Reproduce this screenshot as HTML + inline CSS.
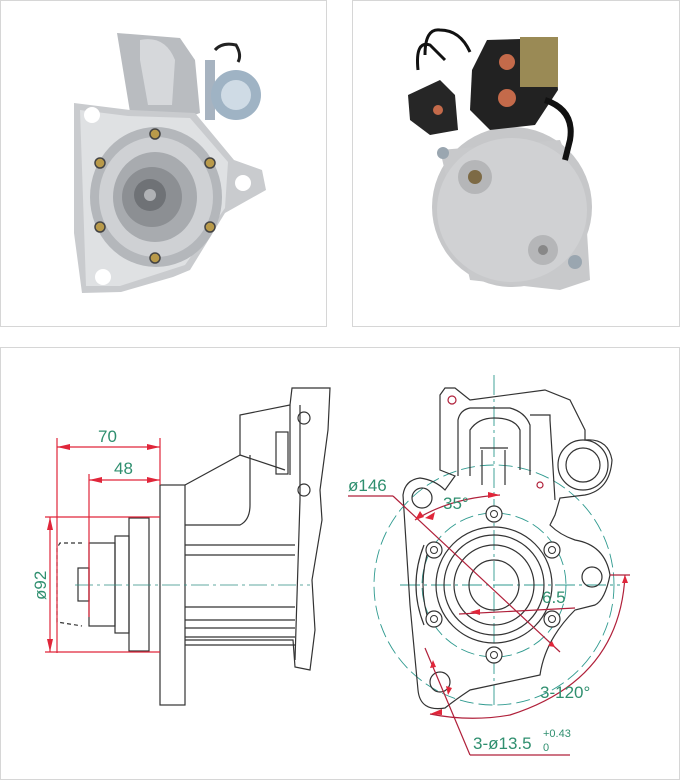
<!DOCTYPE html>
<html><head><meta charset="utf-8"><style>
html,body{margin:0;padding:0;background:#fff;}
svg{display:block;}
text{font-family:"Liberation Sans",sans-serif;}
</style></head><body>
<svg width="680" height="781" viewBox="0 0 680 781" xmlns="http://www.w3.org/2000/svg">
<rect width="680" height="781" fill="#fff"/>
<!-- panels -->
<rect x="0.5" y="0.5" width="326" height="326" fill="#fff" stroke="#d6d6d6"/>
<rect x="352.5" y="0.5" width="327" height="326" fill="#fff" stroke="#d6d6d6"/>
<rect x="0.5" y="347.5" width="679" height="432" fill="#fff" stroke="#d6d6d6"/>

<!-- left photo -->
<path d="M117,33 L180,38 L195,60 L200,113 L186,118 L130,112 Z" fill="#b9bcc0"/>
<path d="M140,40 Q165,35 175,60 L172,105 L148,105 L140,60 Z" fill="#d6d8db"/>
<path d="M74,103 L130,110 L195,113 L234,160 L262,170 L266,190 L225,213 L190,270 L173,277 L121,292 L82,293 L74,233 Z" fill="#c9cbce"/>
<path d="M80,110 L128,116 L190,118 L228,162 L225,208 L185,265 L120,286 L86,286 Z" fill="#dfe1e3"/>
<circle cx="92" cy="115" r="8" fill="#fff"/>
<circle cx="243" cy="183" r="8" fill="#fff"/>
<circle cx="103" cy="277" r="8" fill="#fff"/>
<ellipse cx="156" cy="197" rx="66" ry="70" fill="#b4b7bb"/>
<ellipse cx="156" cy="197" rx="57" ry="60" fill="#cfd1d4"/>
<ellipse cx="155" cy="197" rx="42" ry="45" fill="#a8abaf"/>
<circle cx="152" cy="197" r="30" fill="#8c8f93"/>
<circle cx="150" cy="195" r="16" fill="#6f7276"/>
<circle cx="150" cy="195" r="6" fill="#b0b2b5"/>
<g fill="#b99a4a" stroke="#444" stroke-width="1.5">
<circle cx="155" cy="134" r="5"/><circle cx="100" cy="163" r="5"/><circle cx="210" cy="163" r="5"/>
<circle cx="100" cy="227" r="5"/><circle cx="210" cy="227" r="5"/><circle cx="155" cy="258" r="5"/>
</g>
<path d="M215,50 Q222,42 236,45 Q242,55 238,62" fill="none" stroke="#222" stroke-width="3"/>
<rect x="205" y="60" width="10" height="60" fill="#a7b3c0"/>
<circle cx="236" cy="95" r="25" fill="#9fb3c4"/>
<circle cx="236" cy="95" r="15" fill="#cfdbe5"/>

<!-- right photo -->
<ellipse cx="512" cy="207" rx="80" ry="80" fill="#c6c7c9"/>
<path d="M440,150 L560,140 L585,200 L590,280 L560,290 L470,280 Z" fill="#c8c9cb"/>
<ellipse cx="512" cy="210" rx="75" ry="72" fill="#d0d1d3"/>
<circle cx="475" cy="177" r="17" fill="#b5b6b8"/>
<circle cx="475" cy="177" r="7" fill="#7d6a45"/>
<circle cx="543" cy="250" r="15" fill="#b5b6b8"/>
<circle cx="543" cy="250" r="5" fill="#888"/>
<circle cx="575" cy="262" r="7" fill="#9aa6b0"/>
<circle cx="443" cy="153" r="6" fill="#9aa6b0"/>
<path d="M487,40 L555,38 L558,90 L535,125 L490,130 L470,110 L472,70 Z" fill="#222"/>
<rect x="520" y="37" width="38" height="50" fill="#9a8a55"/>
<path d="M408,95 L440,80 L455,95 L458,130 L430,135 L410,120 Z" fill="#262626"/>
<circle cx="507" cy="62" r="8" fill="#c46a4a"/>
<circle cx="507" cy="98" r="9" fill="#c46a4a"/>
<circle cx="438" cy="110" r="5" fill="#c46a4a"/>
<path d="M425,55 Q425,28 440,30 Q460,30 470,52 M418,70 Q415,40 430,45 L445,60" fill="none" stroke="#111" stroke-width="3"/>
<path d="M545,100 Q575,110 570,140 L565,160" fill="none" stroke="#111" stroke-width="6"/>

<!-- LEFT DRAWING -->
<g fill="none" stroke="#333" stroke-width="1.2">
<rect x="160" y="485" width="25" height="220"/>
<path d="M185,485 L240,455 L240,415 L290,405 L292,388 L330,388 L328,430 L320,490 L322,520 L312,580 L315,630 L310,670 L295,667 L293,640 L185,640"/>
<path d="M185,525 L240,525 Q250,520 250,505 L250,455"/>
<path d="M240,455 L285,470"/>
<path d="M290,405 L290,475 M300,405 L300,500 M300,500 L295,660"/>
<rect x="276" y="432" width="12" height="42"/>
<circle cx="304" cy="418" r="6"/><circle cx="304" cy="490" r="6"/>
<path d="M185,545 L295,545 M185,555 L295,555 M185,607 L295,607 M185,620 L295,620 M185,628 L295,628 M185,637 L295,637 M185,645 L295,645"/>
<rect x="129" y="518" width="20" height="133"/>
<rect x="115" y="536" width="14" height="97"/>
<rect x="89" y="543" width="26" height="83"/>
<rect x="78" y="568" width="11" height="33"/>
<path d="M82,543 L60,543 L57,548 L57,622 L82,626" stroke-dasharray="4,3"/>
</g>
<line x1="75" y1="585" x2="310" y2="585" stroke="#2f8f83" stroke-width="0.8" stroke-dasharray="18,4,3,4"/>
<g stroke="#e0263a" stroke-width="1.2" fill="#e0263a">
<line x1="57" y1="438" x2="57" y2="653"/>
<line x1="89" y1="474" x2="89" y2="617"/>
<line x1="160" y1="438" x2="160" y2="485"/>
<line x1="57" y1="447" x2="160" y2="447"/>
<line x1="89" y1="480" x2="160" y2="480"/>
<line x1="45" y1="517" x2="160" y2="517"/>
<line x1="45" y1="652" x2="160" y2="652"/>
<line x1="50" y1="517" x2="50" y2="652"/>
<path d="M57,447 l13,-3 v6 z M160,447 l-13,-3 v6 z M89,480 l13,-3 v6 z M160,480 l-13,-3 v6 z M50,517 l-3,13 h6 z M50,652 l-3,-13 h6 z" stroke="none"/>
</g>
<g fill="#2f8f6f" font-size="17">
<text x="98" y="442">70</text>
<text x="114" y="474">48</text>
<text transform="translate(46,600) rotate(-90)">ø92</text>
</g>

<!-- RIGHT DRAWING -->
<g fill="none" stroke="#2f9a8f" stroke-width="0.9" stroke-dasharray="14,5">
<circle cx="494" cy="585" r="120"/>
<circle cx="494" cy="585" r="72"/>
<line x1="400" y1="585" x2="620" y2="585" stroke-dasharray="20,4,3,4"/>
<line x1="494" y1="375" x2="494" y2="705" stroke-dasharray="20,4,3,4"/>
</g>
<g fill="none" stroke="#333" stroke-width="1.2">
<path d="M440,395 L445,388 L455,388 L470,400 L545,390 L570,400 L585,430 L585,440 Q608,438 612,460 Q610,490 585,495 L560,498 L555,515 L550,525 Q560,535 575,540 Q605,545 610,575 Q605,600 595,605 L575,610 Q545,640 540,675 L470,690 Q455,700 445,708 Q420,712 418,690 L410,605 L403,495 Q405,480 420,478 Q435,480 445,490 L455,476 L440,470 Z"/>
<path d="M458,476 L458,420 Q460,410 470,408 L510,408 Q525,412 530,425 L530,475"/>
<path d="M470,476 L470,430 Q478,418 494,418 Q515,418 520,430 L520,470"/>
<path d="M482,450 L482,485 M505,450 L505,485 M480,448 L508,448"/>
<path d="M530,415 L550,415 L550,420 L555,500"/>
<circle cx="583" cy="465" r="25"/><circle cx="583" cy="465" r="17"/>
<circle cx="422" cy="498" r="10"/>
<circle cx="440" cy="682" r="10"/>
<circle cx="592" cy="577" r="10"/>
<circle cx="494" cy="585" r="58"/>
<circle cx="494" cy="585" r="50"/>
<circle cx="494" cy="585" r="40"/>
<circle cx="494" cy="585" r="25"/>
<path d="M424,545 Q408,585 424,625 M430,545 Q416,585 430,625" />
</g>
<g fill="#fff" stroke="#333" stroke-width="1.2">
<circle cx="494" cy="514" r="8"/><circle cx="434" cy="550" r="8"/><circle cx="552" cy="550" r="8"/>
<circle cx="434" cy="619" r="8"/><circle cx="552" cy="619" r="8"/><circle cx="494" cy="655" r="8"/>
</g>
<g fill="none" stroke="#333" stroke-width="1"><circle cx="494" cy="514" r="3.5"/><circle cx="434" cy="550" r="3.5"/><circle cx="552" cy="550" r="3.5"/><circle cx="434" cy="619" r="3.5"/><circle cx="552" cy="619" r="3.5"/><circle cx="494" cy="655" r="3.5"/></g>
<g stroke="#b0203a" stroke-width="1.2" fill="none">
<circle cx="452" cy="400" r="4"/><circle cx="540" cy="485" r="3"/>
<line x1="348" y1="496" x2="393" y2="496"/>
<line x1="393" y1="496" x2="560" y2="652"/>
<path d="M415,520 Q450,498 500,495"/>
<path d="M625,575 Q620,680 510,715 Q470,722 430,714"/>
<line x1="610" y1="575" x2="630" y2="575"/>
<line x1="425" y1="648" x2="470" y2="755"/>
<line x1="470" y1="755" x2="570" y2="755"/>
<line x1="459" y1="614" x2="575" y2="608"/>
</g>
<g fill="#e0263a">
<path d="M415,520 l5,-9 l4,6 z M500,495 l-12,-3 v6 z M425,518 l10,-6 l-2,8 z M625,575 l-3,8 h6 z M430,714 l12,-5 v6 z M433,660 l-3,8 l6,-1 z M448,695 l-2,-9 l6,2 z M470,612 l10,-3 v6 z M555,647 l-7,-1 l4,-5 z"/>
</g>
<g fill="#2f8f6f" font-size="17">
<text x="348" y="491">ø146</text>
<text x="443" y="509">35°</text>
<text x="542" y="603">6.5</text>
<text x="540" y="698">3-120°</text>
<text x="473" y="749">3-ø13.5</text>
<text x="543" y="737" font-size="11">+0.43</text>
<text x="543" y="751" font-size="11">0</text>
</g>
</svg>
</body></html>
